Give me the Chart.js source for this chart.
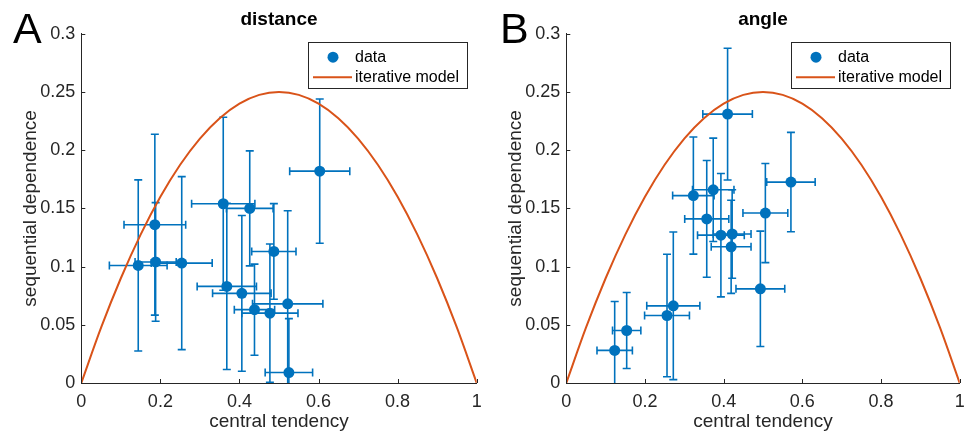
<!DOCTYPE html>
<html>
<head>
<meta charset="utf-8">
<script src="https://cdn.jsdelivr.net/npm/chart.js@4.4.1/dist/chart.umd.min.js"></script>
<style>
  html, body { margin: 0; padding: 0; background: #fff; overflow: hidden; }
  canvas { position: absolute; top: 0; }
  #distanceChart { left: 0; }
  #angleChart { left: 485px; }
</style>
</head>
<body>
<canvas id="distanceChart" width="483" height="437"></canvas>
<canvas id="angleChart" width="481" height="437"></canvas>
<script>
// panel A - distance
var distanceX    = [0.144, 0.186, 0.188, 0.254, 0.359, 0.426, 0.487, 0.368, 0.406, 0.438, 0.477, 0.522, 0.525, 0.603]
var distanceY    = [0.101, 0.136, 0.104, 0.103, 0.154, 0.150, 0.113, 0.083, 0.077, 0.063, 0.060, 0.068, 0.009, 0.182]
var distanceXErr = [0.073, 0.078, 0.052, 0.077, 0.080, 0.059, 0.056, 0.075, 0.074, 0.051, 0.071, 0.089, 0.060, 0.076]
var distanceYErr = [0.0735, 0.0777, 0.051, 0.0743, 0.0743, 0.0494, 0.0411, 0.0714, 0.0669, 0.0391, 0.0594, 0.080, 0.0463, 0.062]

// panel B - angle
var angleX    = [0.123, 0.1535, 0.256, 0.272, 0.323, 0.3735, 0.357, 0.410, 0.393, 0.4216, 0.419, 0.4933, 0.506, 0.571]
var angleY    = [0.028, 0.0451, 0.058, 0.0663, 0.161, 0.166, 0.141, 0.231, 0.127, 0.128, 0.117, 0.0809, 0.146, 0.1726]
var angleXErr = [0.045, 0.036, 0.057, 0.0675, 0.0527, 0.0527, 0.056, 0.063, 0.0594, 0.048, 0.0506, 0.062, 0.057, 0.0616]
var angleYErr = [0.042, 0.0326, 0.0526, 0.0634, 0.0503, 0.0444, 0.0501, 0.0566, 0.053, 0.038, 0.040, 0.0496, 0.0426, 0.0427]

// iterative model curve (same in both panels)
var modelX = [0, 0.05, 0.1, 0.15, 0.2, 0.25, 0.3, 0.35, 0.4, 0.45, 0.5, 0.55, 0.6, 0.65, 0.7, 0.75, 0.8, 0.85, 0.9, 0.95, 1]
var modelY = [0, 0.0475, 0.09, 0.1275, 0.16, 0.1875, 0.21, 0.2275, 0.24, 0.2475, 0.25, 0.2475, 0.24, 0.2275, 0.21, 0.1875, 0.16, 0.1275, 0.09, 0.0475, 0]

var xTickValues = [0, 0.2, 0.4, 0.6, 0.8, 1]
var yTickValues = [0, 0.05, 0.1, 0.15, 0.2, 0.25, 0.3]

var blue = '#0072BD'
var orange = '#D95319'
var axisColor = '#262626'
var fontFamily = '"Liberation Sans", Arial, Helvetica, sans-serif'

Chart.defaults.font.family = fontFamily
Chart.defaults.color = axisColor

// x and y error bars under the markers
var errorBars = {
    id: 'errorBars',
    beforeDatasetsDraw(chart) {
        var ctx = chart.ctx, a = chart.chartArea
        var xs = chart.scales.x, ys = chart.scales.y
        var cap = 4
        ctx.save()
        ctx.beginPath()
        ctx.rect(a.left, a.top, a.right - a.left, a.bottom - a.top)
        ctx.clip()
        ctx.strokeStyle = blue
        ctx.lineWidth = 1.6
        chart.data.datasets[0].data.forEach(p => {
            var px = xs.getPixelForValue(p.x), py = ys.getPixelForValue(p.y)
            var x0 = xs.getPixelForValue(p.x - p.xErr), x1 = xs.getPixelForValue(p.x + p.xErr)
            var y0 = ys.getPixelForValue(p.y - p.yErr), y1 = ys.getPixelForValue(p.y + p.yErr)
            ctx.beginPath()
            ctx.moveTo(px, y0); ctx.lineTo(px, y1)
            ctx.moveTo(px - cap, y0); ctx.lineTo(px + cap, y0)
            ctx.moveTo(px - cap, y1); ctx.lineTo(px + cap, y1)
            ctx.moveTo(x0, py); ctx.lineTo(x1, py)
            ctx.moveTo(x0, py - cap); ctx.lineTo(x0, py + cap)
            ctx.moveTo(x1, py - cap); ctx.lineTo(x1, py + cap)
            ctx.stroke()
        })
        ctx.restore()
    }
}

// inward ticks, boxed legend and the panel letter
var frame = {
    id: 'frame',
    afterDraw(chart, args, opts) {
        var ctx = chart.ctx, a = chart.chartArea
        var xs = chart.scales.x, ys = chart.scales.y
        ctx.save()
        ctx.strokeStyle = axisColor
        ctx.lineWidth = 1
        ctx.beginPath()
        xTickValues.forEach(v => {
            var px = Math.round(xs.getPixelForValue(v)) + 0.5
            ctx.moveTo(px, a.bottom); ctx.lineTo(px, a.bottom - 4)
        })
        yTickValues.forEach(v => {
            var py = Math.round(ys.getPixelForValue(v)) + 0.5
            ctx.moveTo(a.left, py); ctx.lineTo(a.left + 4, py)
        })
        ctx.stroke()

        // legend
        var bl = Math.round(a.right - 168.7) + 0.5, br = Math.round(a.right - 9.7) + 0.5
        var bt = Math.round(a.top + 8.4) + 0.5, bb = Math.round(a.top + 54.4) + 0.5
        ctx.fillStyle = '#fff'
        ctx.fillRect(bl, bt, br - bl, bb - bt)
        ctx.strokeStyle = axisColor
        ctx.strokeRect(bl, bt, br - bl, bb - bt)
        var row1 = a.top + 23.4, row2 = a.top + 43.4
        ctx.fillStyle = blue
        ctx.beginPath()
        ctx.arc(a.right - 143.7, row1, 5.5, 0, Math.PI * 2)
        ctx.fill()
        ctx.strokeStyle = orange
        ctx.lineWidth = 2
        ctx.beginPath()
        ctx.moveTo(a.right - 163.7, row2); ctx.lineTo(a.right - 124.7, row2)
        ctx.stroke()
        ctx.fillStyle = '#000'
        ctx.font = '16px ' + fontFamily
        ctx.textBaseline = 'middle'
        ctx.textAlign = 'left'
        ctx.fillText(chart.data.datasets[0].label, a.right - 121.7, row1)
        ctx.fillText(chart.data.datasets[1].label, a.right - 121.7, row2)

        // panel letter
        ctx.font = '43px ' + fontFamily
        ctx.textBaseline = 'alphabetic'
        ctx.fillText(opts.letter, opts.letterX, 43)
        ctx.restore()
    }
}

function makePanel(id, title, letter, letterX, xs, ys, xErr, yErr) {
    var points = xs.map((v, i) => ({ x: v, y: ys[i], xErr: xErr[i], yErr: yErr[i] }))
    var curve = modelX.map((v, i) => ({ x: v, y: modelY[i] }))
    return new Chart(document.getElementById(id).getContext('2d'), {
        type: 'scatter',
        data: {
            datasets: [{
                label: 'data',
                data: points,
                pointRadius: 5.5,
                pointBackgroundColor: blue,
                pointBorderWidth: 0
            }, {
                label: 'iterative model',
                data: curve,
                showLine: true,
                borderColor: orange,
                borderWidth: 2,
                pointRadius: 0,
                cubicInterpolationMode: 'monotone'
            }]
        },
        options: {
            responsive: false,
            animation: false,
            layout: { padding: { left: 15, right: 6.3, top: 0, bottom: 0 } },
            plugins: {
                legend: { display: false },
                tooltip: { enabled: false },
                title: {
                    display: true,
                    text: title,
                    fullSize: false,
                    color: '#000',
                    font: { size: 19, weight: 'bold' },
                    padding: { top: 8, bottom: 3 }
                },
                frame: { letter: letter, letterX: letterX }
            },
            scales: {
                x: {
                    type: 'linear',
                    min: 0,
                    max: 1,
                    afterBuildTicks: s => { s.ticks = xTickValues.map(v => ({ value: v })) },
                    afterFit: s => { s.height = 54; s.paddingLeft = 0; s.paddingRight = 0 },
                    ticks: { font: { size: 18 }, padding: 8, callback: v => String(v), maxRotation: 0 },
                    grid: { display: true, drawOnChartArea: false, drawTicks: false },
                    border: { display: true, color: axisColor, width: 1 },
                    title: { display: true, text: 'central tendency', font: { size: 19 }, padding: { top: 4, bottom: 4 } }
                },
                y: {
                    type: 'linear',
                    min: 0,
                    max: 0.3,
                    afterBuildTicks: s => { s.ticks = yTickValues.map(v => ({ value: v })) },
                    afterFit: s => { s.width = 66.3; s.paddingTop = 0; s.paddingBottom = 0 },
                    ticks: { font: { size: 18 }, padding: 6, callback: v => String(v) },
                    grid: { display: true, drawOnChartArea: false, drawTicks: false },
                    border: { display: true, color: axisColor, width: 1 },
                    title: { display: true, text: 'sequential dependence', font: { size: 19 }, padding: { top: 4, bottom: 4 } }
                }
            }
        },
        plugins: [errorBars, frame]
    })
}

makePanel('distanceChart', 'distance', 'A', 13, distanceX, distanceY, distanceXErr, distanceYErr)
makePanel('angleChart', 'angle', 'B', 15, angleX, angleY, angleXErr, angleYErr)
</script>
</body>
</html>
